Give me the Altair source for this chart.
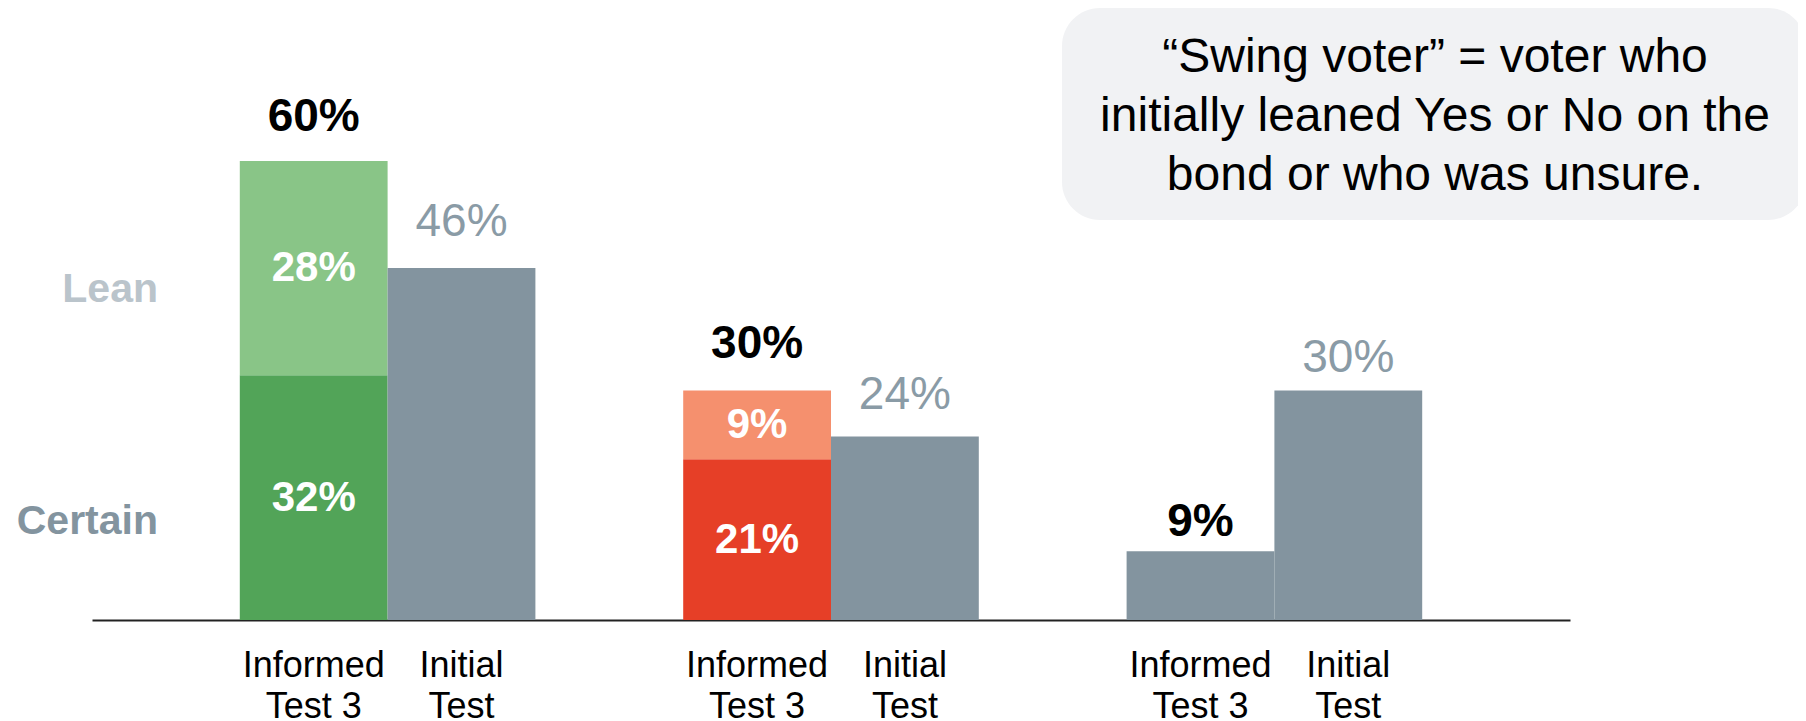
import json
import altair as alt
import pandas as pd

# ---------------- data ----------------
informed_certain = [32, 21, None]
informed_lean = [28, 9, None]
informed_total = [60, 30, 9]
initial_total = [46, 24, 30]

informed_tick = ["Informed", "Test 3"]
initial_tick = ["Initial", "Test"]

side_labels = ["Lean", "Certain"]
side_label_pos = [43.2, 12.8]

note_lines = ["\u201cSwing voter\u201d = voter who",
              "initially leaned Yes or No on the",
              "bond or who was unsure."]

# ---------------- styles ----------------
CERTAIN_COLORS = ["#52A458", "#E63F27"]
LEAN_COLORS = ["#89C587", "#F5906E"]
GREY = "#83949F"
GREY_TEXT = "#8A9BA6"
FONT = "Liberation Sans"
INF_DY = [-44, -47, -29]
INI_DY = [-46, -41, -33]

slots = ["pad0"]
for i in range(3):
    slots += [f"inf{i}", f"ini{i}"]
    if i < 2:
        slots.append(f"gap{i}")
slots.append("pad1")

rows = []
for i in range(3):
    if informed_certain[i] is not None:
        rows.append(dict(key=f"inf{i}", y0=0, y1=informed_certain[i],
                         color=CERTAIN_COLORS[i], seg=f"{informed_certain[i]}%"))
        rows.append(dict(key=f"inf{i}", y0=informed_certain[i], y1=informed_total[i],
                         color=LEAN_COLORS[i], seg=f"{informed_lean[i]}%"))
    else:
        rows.append(dict(key=f"inf{i}", y0=0, y1=informed_total[i], color=GREY, seg=""))
    rows.append(dict(key=f"ini{i}", y0=0, y1=initial_total[i], color=GREY, seg=""))
bars_df = pd.DataFrame(rows)
bars_df["mid"] = (bars_df["y0"] + bars_df["y1"]) / 2

label_expr = (
    f"indexof(datum.value,'inf')==0 ? {json.dumps(informed_tick)} : "
    f"indexof(datum.value,'ini')==0 ? {json.dumps(initial_tick)} : ''"
)

xenc = alt.X("key:N", scale=alt.Scale(domain=slots, paddingInner=0, paddingOuter=0),
             axis=alt.Axis(title=None, ticks=False, labelExpr=label_expr, labelAngle=0,
                           labelFont=FONT, labelFontSize=36, labelColor="#000000",
                           labelLineHeight=41, labelBaseline="top", labelPadding=28,
                           domainColor="#222222", domainWidth=2, grid=False,
                           labelOverlap=False))
yscale = alt.Scale(domain=[0, 80], nice=False, zero=True)

base = alt.Chart(bars_df)

bars = base.mark_bar(stroke=None).encode(
    x=xenc,
    y=alt.Y("y0:Q", scale=yscale, axis=None),
    y2="y1:Q",
    color=alt.Color("color:N", scale=None),
)

seg_text = base.transform_filter("datum.seg != ''").mark_text(
    font=FONT, fontSize=42, fontWeight="bold", color="white", baseline="middle"
).encode(x=alt.X("key:N"), y=alt.Y("mid:Q", scale=yscale), text="seg:N")

layers = [bars, seg_text]

for i in range(3):
    d1 = pd.DataFrame({"key": [f"inf{i}"], "v": [informed_total[i]],
                       "t": [f"{informed_total[i]}%"]})
    layers.append(alt.Chart(d1).mark_text(
        font=FONT, fontSize=46, fontWeight="bold", color="#000000",
        baseline="middle", dy=INF_DY[i]
    ).encode(x=alt.X("key:N"), y=alt.Y("v:Q", scale=yscale), text="t:N"))
    d2 = pd.DataFrame({"key": [f"ini{i}"], "v": [initial_total[i]],
                       "t": [f"{initial_total[i]}%"]})
    layers.append(alt.Chart(d2).mark_text(
        font=FONT, fontSize=46, color=GREY_TEXT,
        baseline="middle", dy=INI_DY[i]
    ).encode(x=alt.X("key:N"), y=alt.Y("v:Q", scale=yscale), text="t:N"))

side_df = pd.DataFrame({"t": side_labels, "v": side_label_pos,
                        "c": ["#BAC4CB", "#83949F"]})
layers.append(alt.Chart(side_df).mark_text(
    font=FONT, fontSize=41, fontWeight="bold", align="right", baseline="middle"
).encode(x=alt.value(66), y=alt.Y("v:Q", scale=yscale), text="t:N",
         color=alt.Color("c:N", scale=None)))

note_df = pd.DataFrame({"t": [note_lines]})
box = alt.Chart(note_df).mark_rect(color="#F1F2F4", cornerRadius=38).encode(
    x=alt.value(970), x2=alt.value(1714), y=alt.value(0), y2=alt.value(212))
note = alt.Chart(note_df).mark_text(
    font=FONT, fontSize=48, color="#000000", lineHeight=59,
    align="center", baseline="middle"
).encode(x=alt.value(1343), y=alt.value(50), text="t")

layers = [box, note] + layers

chart = alt.layer(*layers).properties(
    width=1478, height=612,
    autosize=alt.AutoSizeParams(type="none"),
    padding={"left": 84, "top": 0, "right": 228, "bottom": 110},
).configure_view(stroke=None)

chart.save("out.html", embed_options={"renderer": "svg", "actions": False})
